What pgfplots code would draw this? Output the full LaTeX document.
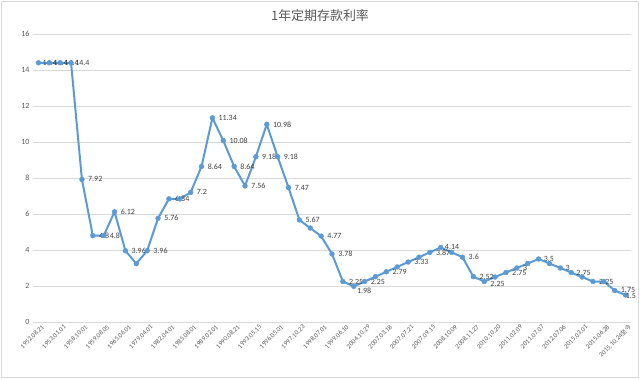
\documentclass[border=0pt]{standalone}
\usepackage{pgfplots}
\pgfplotsset{compat=1.18}
\usepackage{pgfplotstable}
\usepackage{fontspec}
\setmainfont{Carlito}
\newfontfamily\cjk{Noto Sans CJK SC}
\definecolor{serie}{HTML}{5B9BD5}
\definecolor{gridc}{HTML}{D9D9D9}
\definecolor{txt}{HTML}{595959}
\definecolor{labc}{HTML}{404040}

\pgfplotstableread{
i y lab dx dy
1 14.4 14.4 4 0
2 14.4 14.4 4 0
3 14.4 14.4 4 0
4 14.4 14.4 4 0
5 7.92 7.92 6 0
6 4.8 4.8 6 0
7 4.8 4.8 6 0
8 6.12 6.12 6 0
9 3.96 3.96 6 0
10 3.24 {} 4 0
11 3.96 3.96 6 0
12 5.76 5.76 6 0
13 6.84 6.84 6 0
14 6.84 {} 4 0
15 7.2 7.2 6 0
16 8.64 8.64 6 0
17 11.34 11.34 6 0
18 10.08 10.08 6 0
19 8.64 8.64 6 0
20 7.56 7.56 6 0
21 9.18 9.18 6 0
22 10.98 10.98 6 0
23 9.18 9.18 6 0
24 7.47 7.47 6 0
25 5.67 5.67 6 0
26 5.22 {} 4 0
27 4.77 4.77 6 0
28 3.78 3.78 6 0
29 2.25 2.25 6 0
30 1.98 1.98 3 -4
31 2.25 2.25 6 0
32 2.52 {} 4 0
33 2.79 2.79 6 0
34 3.06 {} 4 0
35 3.33 3.33 6 0
36 3.6 {} 4 0
37 3.87 3.87 6 0
38 4.14 4.14 4 1
39 3.87 {} 4 0
40 3.6 3.6 6 0
41 2.52 2.52 6 0
42 2.25 2.25 6 -2
43 2.5 {} 4 0
44 2.75 2.75 6 0
45 3 3 6 0
46 3.25 {} 4 0
47 3.5 3.5 5 0
48 3.25 {} 4 0
49 3 3 5 0
50 2.75 2.75 5 0
51 2.5 {} 4 0
52 2.25 2.25 6 0
53 2.25 {} 4 0
54 1.75 1.75 6 1
55 1.5 1.5 0 -1
}\rates

\begin{document}
\begin{tikzpicture}
\begin{axis}[
  scale only axis, width=598bp, height=288bp,
  xmin=0.5, xmax=55.5, ymin=0, ymax=16,
  ytick={0,2,...,16},
  xtick={1,3,...,55},
  xticklabels={1952.08.21,1953.01.01,1958.10.01,1959.08.05,1965.06.01,1979.04.01,1982.04.01,1985.08.01,1989.02.01,1990.08.21,1993.05.15,1996.05.01,1997.10.23,1998.07.01,1999.06.10,2004.10.29,2007.03.18,2007.07.21,2007.09.15,2008.10.09,2008.11.27,2010.10.20,2011.02.09,2011.07.07,2012.07.06,2015.03.01,2015.06.28,{2015.10.24{\cjk\fontsize{6}{7}\selectfont 至今}}},
  /pgf/number format/assume math mode=true,
  x tick label style={rotate=45, anchor=east, font=\fontsize{6.7}{8}\selectfont, text=txt, inner sep=0.5bp, xshift=1bp, yshift=-6bp},
  y tick label style={font=\fontsize{8}{10}\selectfont, text=txt},
  ymajorgrids, major grid style={draw=gridc, line width=0.75bp},
  axis x line=bottom, axis y line=left,
  axis line style={-},
  x axis line style={draw=gridc, line width=0.75bp},
  y axis line style={draw=none},
  major tick length=0pt,
  clip=false,
]
\addplot[color=serie, line width=2bp, mark=*, mark size=2.4bp,
  mark options={fill=serie, draw=serie, line width=0.5bp},
  point meta=explicit symbolic,
  nodes near coords,
  visualization depends on={\thisrow{dx} \as \dx},
  visualization depends on={\thisrow{dy} \as \dy},
  every node near coord/.append style={anchor=west, font=\fontsize{8}{10}\selectfont, text=labc, xshift=\dx bp, yshift=\dy bp, inner sep=0pt}]
  table[x=i, y=y, meta=lab] {\rates};
\path (rel axis cs:-0.055184,-0.197917) rectangle (rel axis cs:1.015050,1.118056);
\draw[draw=gridc, line width=0.75bp] (rel axis cs:-0.05268,-0.19271) rectangle (rel axis cs:1.01254,1.11285);
\node[font=\cjk\fontsize{13}{15}\selectfont, text=txt] at (rel axis cs:0.47993,1.0625) {1年定期存款利率};
\end{axis}
\end{tikzpicture}
\end{document}
